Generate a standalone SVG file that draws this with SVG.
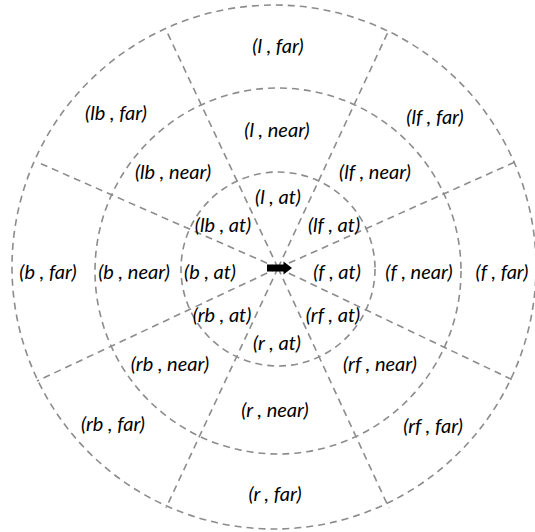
<svg xmlns="http://www.w3.org/2000/svg" width="535" height="532" viewBox="0 0 535 532">
<style>
.ring{fill:none;stroke:#8c8c8c;stroke-width:1.6;stroke-dasharray:7 5}
.spoke{fill:none;stroke:#8c8c8c;stroke-width:1.6;stroke-dasharray:7 5}
text{font-family:Lato,"Open Sans","Liberation Sans",sans-serif;font-style:italic;font-size:20px;fill:#000;text-anchor:middle}
</style>
<rect width="535" height="532" fill="#fff"/>
<g id="rings">
<circle class="ring" cx="274" cy="267" r="262"/>
<circle class="ring" cx="278" cy="271" r="183"/>
<circle class="ring" cx="278" cy="269" r="97"/>
</g>
<g id="connectors">
<line class="spoke" x1="278" y1="268" x2="167" y2="32"/>
<line class="spoke" x1="278" y1="268" x2="388" y2="32"/>
<line class="spoke" x1="278" y1="268" x2="37" y2="162"/>
<line class="spoke" x1="278" y1="268" x2="515" y2="162"/>
<line class="spoke" x1="278" y1="268" x2="37" y2="381"/>
<line class="spoke" x1="278" y1="268" x2="515" y2="381"/>
<line class="spoke" x1="278" y1="268" x2="166" y2="508"/>
<line class="spoke" x1="278" y1="268" x2="389" y2="508"/>
</g>
<g id="agent"><path d="M267 264.5H283.5V261.5L292 268L283.5 274.5V271.5H267Z" fill="#000"/></g>
<g id="l-far"><text x="278" y="53">(l , far)</text></g>
<g id="lb-far"><text x="116" y="120">(lb , far)</text></g>
<g id="lf-far"><text x="435" y="124">(lf , far)</text></g>
<g id="l-near"><text x="277" y="137">(l , near)</text></g>
<g id="lb-near"><text x="173" y="179">(lb , near)</text></g>
<g id="lf-near"><text x="375" y="179">(lf , near)</text></g>
<g id="l-at"><text x="278" y="204">(l , at)</text></g>
<g id="lb-at"><text x="223" y="232">(lb , at)</text></g>
<g id="lf-at"><text x="334" y="232">(lf , at)</text></g>
<g id="b-far"><text x="48" y="279">(b , far)</text></g>
<g id="b-near"><text x="134" y="279">(b , near)</text></g>
<g id="b-at"><text x="210" y="279">(b , at)</text></g>
<g id="f-at"><text x="337" y="279">(f , at)</text></g>
<g id="f-near"><text x="419" y="279">(f , near)</text></g>
<g id="f-far"><text x="502" y="279">(f , far)</text></g>
<g id="rb-at"><text x="222" y="322">(rb , at)</text></g>
<g id="rf-at"><text x="333" y="322">(rf , at)</text></g>
<g id="r-at"><text x="277" y="350">(r , at)</text></g>
<g id="rb-near"><text x="170" y="371">(rb , near)</text></g>
<g id="rf-near"><text x="380" y="371">(rf , near)</text></g>
<g id="r-near"><text x="275" y="417">(r , near)</text></g>
<g id="rb-far"><text x="113" y="431">(rb , far)</text></g>
<g id="rf-far"><text x="433" y="433">(rf , far)</text></g>
<g id="r-far"><text x="275" y="501">(r , far)</text></g>
</svg>
